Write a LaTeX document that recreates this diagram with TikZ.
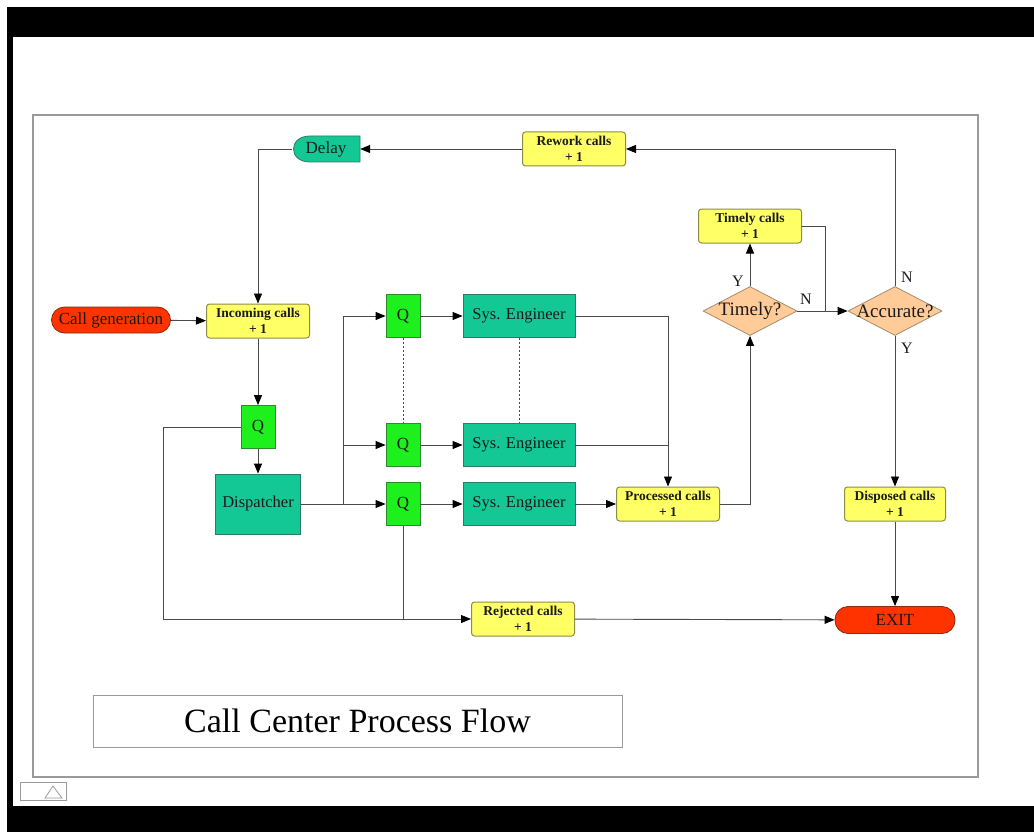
\documentclass[tikz,border=0pt]{standalone}
\usepackage{fontspec}
\setmainfont{Liberation Serif}
\usetikzlibrary{arrows.meta,shapes.geometric,calc}
\definecolor{ink}{HTML}{1A1A1A}
\definecolor{wire}{HTML}{4A4A4A}
\definecolor{frame}{HTML}{9A9A9A}
\definecolor{cnt}{HTML}{FFFF66}
\definecolor{cntedge}{HTML}{8C8C4A}
\definecolor{srv}{HTML}{14C896}
\definecolor{srvedge}{HTML}{2E7A62}
\definecolor{que}{HTML}{1EF01E}
\definecolor{queedge}{HTML}{2E8A2E}
\definecolor{term}{HTML}{FF3300}
\definecolor{termedge}{HTML}{8A2A10}
\definecolor{dec}{HTML}{FFCC99}
\definecolor{decedge}{HTML}{A88A6A}
\tikzset{
  cbox/.style={draw=cntedge,line width=1pt,rounded corners=3pt,fill=cnt,minimum width=103pt,minimum height=34pt,inner sep=1pt,align=center,font=\fontsize{13.5}{15.5}\selectfont\bfseries,text=ink},
  sbox/.style={draw=srvedge,line width=.8pt,fill=srv,minimum width=112pt,minimum height=43pt,inner sep=2pt,font=\fontsize{16.5}{18}\selectfont,text=ink},
  qbox/.style={draw=queedge,line width=.8pt,fill=que,minimum width=34pt,minimum height=43pt,inner sep=0pt,font=\fontsize{17}{19}\selectfont,text=ink},
  oval/.style={draw=termedge,line width=.8pt,fill=term,rounded corners=13pt,minimum width=119pt,minimum height=26pt,inner sep=0pt,font=\fontsize{17}{19}\selectfont,text=ink},
  ask/.style={diamond,draw=decedge,line width=.8pt,fill=dec,minimum width=94pt,minimum height=49pt,inner sep=0pt},
  asktext/.style={inner sep=0pt,font=\fontsize{19}{21}\selectfont,text=ink},
  yn/.style={font=\fontsize{16}{18}\selectfont,text=ink,inner sep=0pt},
  ar/.style={-{Triangle[length=10pt,width=8pt,color=black]},draw=wire,line width=.9pt},
  ln/.style={draw=wire,line width=.9pt},
  dots/.style={draw=wire,line width=.8pt,dash pattern=on 2pt off 2pt},
}
\begin{document}
\begin{tikzpicture}[x=1pt,y=-1pt]
  % screen
  \fill[white] (0,0) rectangle (1034,832);
  \useasboundingbox (0,0) rectangle (1034,832);
  \fill[black] (7,7) rectangle (1034,37);
  \fill[black] (7,806) rectangle (1034,832);
  \fill[black] (7,7) rectangle (13,832);
  \draw[frame,line width=1.2pt] (33,115) rectangle (978,777);
  % nodes
  \node[oval] (gen) at (111,320) {Call generation};
  \node[cbox] (inc) at (258,321) {Incoming calls\\+ 1};
  \node[qbox] (q0) at (258,427) {Q};
  \node[sbox,minimum width=85pt,minimum height=60pt] (disp) at (258,504) {Dispatcher};
  \node[qbox] (qa) at (403,316) {Q};
  \node[qbox] (qb) at (403,445) {Q};
  \node[qbox] (qc) at (403,504) {Q};
  \node[sbox] (sa) at (519,316) {Sys. Engineer};
  \node[sbox] (sb) at (519,445) {Sys. Engineer};
  \node[sbox] (sc) at (519,504) {Sys. Engineer};
  \node[cbox] (proc) at (668,504) {Processed calls\\+ 1};
  \node[ask] (tim) at (750,311) {};
  \node[asktext] (timtxt) at (tim) {Timely?};
  \node[cbox] (tcl) at (750,226) {Timely calls\\+ 1};
  \node[ask] (acc) at (895,311) {};
  \node[asktext] (acctxt) at (acc) {Accurate?};
  \node[cbox,minimum width=101pt] (disc) at (895,504) {Disposed calls\\+ 1};
  \node[oval,minimum width=120pt,minimum height=27pt] (exit) at (895,620) {EXIT};
  \node[cbox] (rej) at (523,619) {Rejected calls\\+ 1};
  \node[cbox] (rew) at (574,149) {Rework calls\\+ 1};
  \coordinate (dl) at (326,149);
  \path[draw=srvedge,fill=srv,line width=.8pt] ($(dl)+(34,13)$) -- ($(dl)+(34,-13)$) -- ($(dl)+(-16,-13)$)
    .. controls ($(dl)+(-38,-13)$) and ($(dl)+(-38,13)$) .. ($(dl)+(-16,13)$) -- cycle;
  \node[minimum width=68pt,minimum height=26pt,inner sep=0pt,font=\fontsize{17}{19}\selectfont,text=ink] (delay) at (dl) {Delay};
  % connectors
  \coordinate (fork) at (343,504);
  \coordinate (tj) at (825,311);
  \coordinate (rj) at (163,619);
  \draw[ar] (gen) -- (inc);
  \draw[ar] (inc) -- (q0);
  \draw[ar] (q0) -- (disp);
  \draw[ar] (disp) -- (qc);
  \draw[ar] (fork) |- (qa);
  \draw[ar] (fork |- qb) -- (qb);
  \draw[ar] (qa) -- (sa);
  \draw[ar] (qb) -- (sb);
  \draw[ar] (qc) -- (sc);
  \draw[dots] (qa) -- (qb);
  \draw[dots] (sa) -- (sb);
  \draw[ar] (sa.east) -| (proc.north);
  \draw[ln] (sb.east) -- (sb.east -| proc.north);
  \draw[ar] (sc) -- (proc);
  \draw[ar] (proc.east) -| (tim.south);
  \draw[ar] (tim) -- (tcl);
  \draw[ar] (tim) -- (acc);
  \draw[ln] (tcl.east) -| (tj);
  \draw[ar] (acc.north) |- (rew.east);
  \draw[ar] (rew) -- (delay);
  \draw[ar] (delay.west) -| (inc.north);
  \draw[ar] (acc) -- (disc);
  \draw[ar] (disc) -- (exit);
  \draw[ar] (q0.west) -| (rj) -- (rej.west);
  \draw[ln] (qc.south) -- (qc.south |- rej.west);
  \draw[ar] (rej) -- (exit);
  \node[yn] (ty) at (738,281) {Y};
  \node[yn] (tn) at (806,299) {N};
  \node[yn] (an) at (907,277) {N};
  \node[yn] (ay) at (907,348) {Y};
  % title and button
  \node[draw=frame,line width=1pt,minimum width=529pt,minimum height=52pt,font=\fontsize{34}{38}\selectfont] (title) at (357.5,721) {Call Center Process Flow};
  \node[draw=frame,line width=1pt,minimum width=46pt,minimum height=18pt,inner sep=0pt] (btn) at (43,791) {};
  \draw[frame,line width=.8pt] (45,798) -- (53,786) -- (62,798) -- cycle;
\end{tikzpicture}
\end{document}
